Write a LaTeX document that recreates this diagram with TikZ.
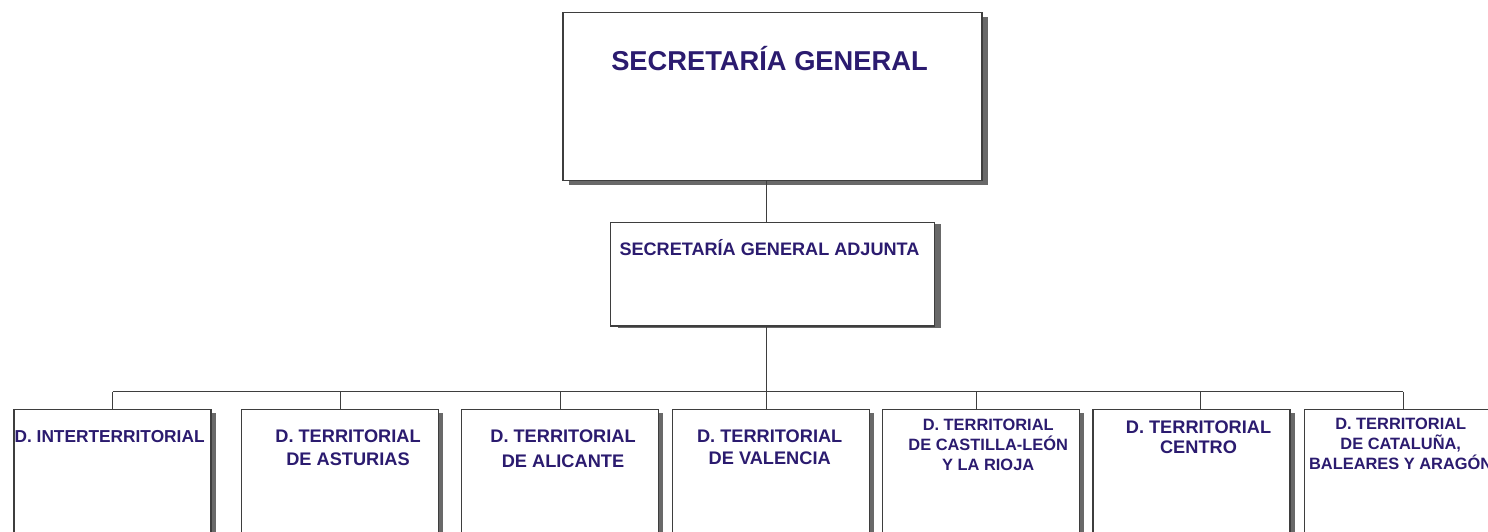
\documentclass[tikz,border=0pt]{standalone}
\usepackage{fontspec}
\setmainfont{Liberation Sans}
\usetikzlibrary{positioning,shadows}

\definecolor{orgtext}{RGB}{43,27,111}
\definecolor{orgline}{RGB}{62,62,62}
\definecolor{orgshade}{RGB}{105,105,105}

\tikzset{
  orgbox/.style={draw=orgline, line width=1.2pt, fill=white, anchor=north west,
    inner sep=0pt, outer sep=0pt},
  boxshade/.style 2 args={drop shadow={shadow xshift=#1, shadow yshift=#2,
    fill=orgshade, draw=none, opacity=1}},
  unitbox/.style={orgbox, boxshade={4.5pt}{-4pt}, minimum width=197pt, minimum height=152pt},
  unittext/.style={text=orgtext, align=center, inner sep=0pt,
    font=\bfseries\fontsize{18.2}{#1}\selectfont},
  unittext/.default=22,
  smalltext/.style={unittext, font=\bfseries\fontsize{16.4}{20}\selectfont},
  link/.style={draw=orgline, line width=1pt}
}

\begin{document}
\begin{tikzpicture}[x=1pt,y=-1pt]
    \useasboundingbox (0,0) rectangle (1488,532);
    \clip (0,0) rectangle (1488,532);

    % secretaria general y adjunta
    \node[orgbox, boxshade={5.5pt}{-4.5pt}, minimum width=419pt, minimum height=168pt] (sg) at (563,12.7) {};
    \node[text=orgtext, inner sep=0pt, font=\bfseries\fontsize{27.3}{32}\selectfont,
      below=57.6pt of sg.north, anchor=base, xshift=-3pt] (sgtext) {SECRETARÍA GENERAL};
    \node[orgbox, boxshade={7pt}{-1.5pt}, minimum width=323.6pt, minimum height=103.7pt] (sga) at (610.7,222.3) {};
    \node[text=orgtext, inner sep=0pt, font=\bfseries\fontsize{18.1}{22}\selectfont,
      below=33.4pt of sga.north, anchor=base, xshift=-3pt] (sgatext) {SECRETARÍA GENERAL ADJUNTA};

    % delegaciones
    \node[unitbox] (d1) at (14,409.3) {};
    \node[unitbox] (d2) at (241.5,409.3) {};
    \node[unitbox] (d3) at (461.5,409.3) {};
    \node[unitbox] (d4) at (672.2,409.3) {};
    \node[unitbox] (d5) at (882.7,409.3) {};
    \node[unitbox] (d6) at (1093,409.3) {};
    \node[unitbox] (d7) at (1304.7,409.3) {};

    \node[unittext, font=\bfseries\fontsize{17.3}{22}\selectfont,
      below right=20.5pt and 0.4pt of d1.north west] (d1text) {D. INTERTERRITORIAL};
    \node[unittext=22.7, below=20.7pt of d2.north, xshift=8pt] (d2text) {D. TERRITORIAL\\DE ASTURIAS};
    \node[unittext=24.5, below=20.7pt of d3.north, xshift=3pt] (d3text) {D. TERRITORIAL\\DE ALICANTE};
    \node[unittext=21.3, below=20.7pt of d4.north, xshift=-1pt] (d4text) {D. TERRITORIAL\\DE VALENCIA};
    \node[smalltext, below=10pt of d5.north, xshift=7pt] (d5text) {D. TERRITORIAL\\DE CASTILLA-LEÓN\\Y LA RIOJA};
    \node[unittext=20, below=11pt of d6.north, xshift=7pt] (d6text) {D. TERRITORIAL\\CENTRO};
    \node[smalltext, below=9pt of d7.north, xshift=-2.5pt] (d7text) {D. TERRITORIAL\\DE CATALUÑA,\\BALEARES Y ARAGÓN};

    % lineas
    \coordinate (bus) at (766,391.8);
    \coordinate (drop5) at ([xshift=-4.6pt]d5.north);
    \coordinate (drop6) at ([xshift=8.5pt]d6.north);
    \draw[link] (sg.south -| bus) -- (sga.north -| bus);
    \draw[link] (sga.south -| bus) -- (d4.north -| bus);
    \draw[link] (bus -| d1.north) -- (bus -| d7.north);
    \draw[link] (bus -| d1.north) -- (d1.north);
    \draw[link] (bus -| d2.north) -- (d2.north);
    \draw[link] (bus -| d3.north) -- (d3.north);
    \draw[link] (bus -| drop5) -- (drop5);
    \draw[link] (bus -| drop6) -- (drop6);
    \draw[link] (bus -| d7.north) -- (d7.north);
\end{tikzpicture}
\end{document}
